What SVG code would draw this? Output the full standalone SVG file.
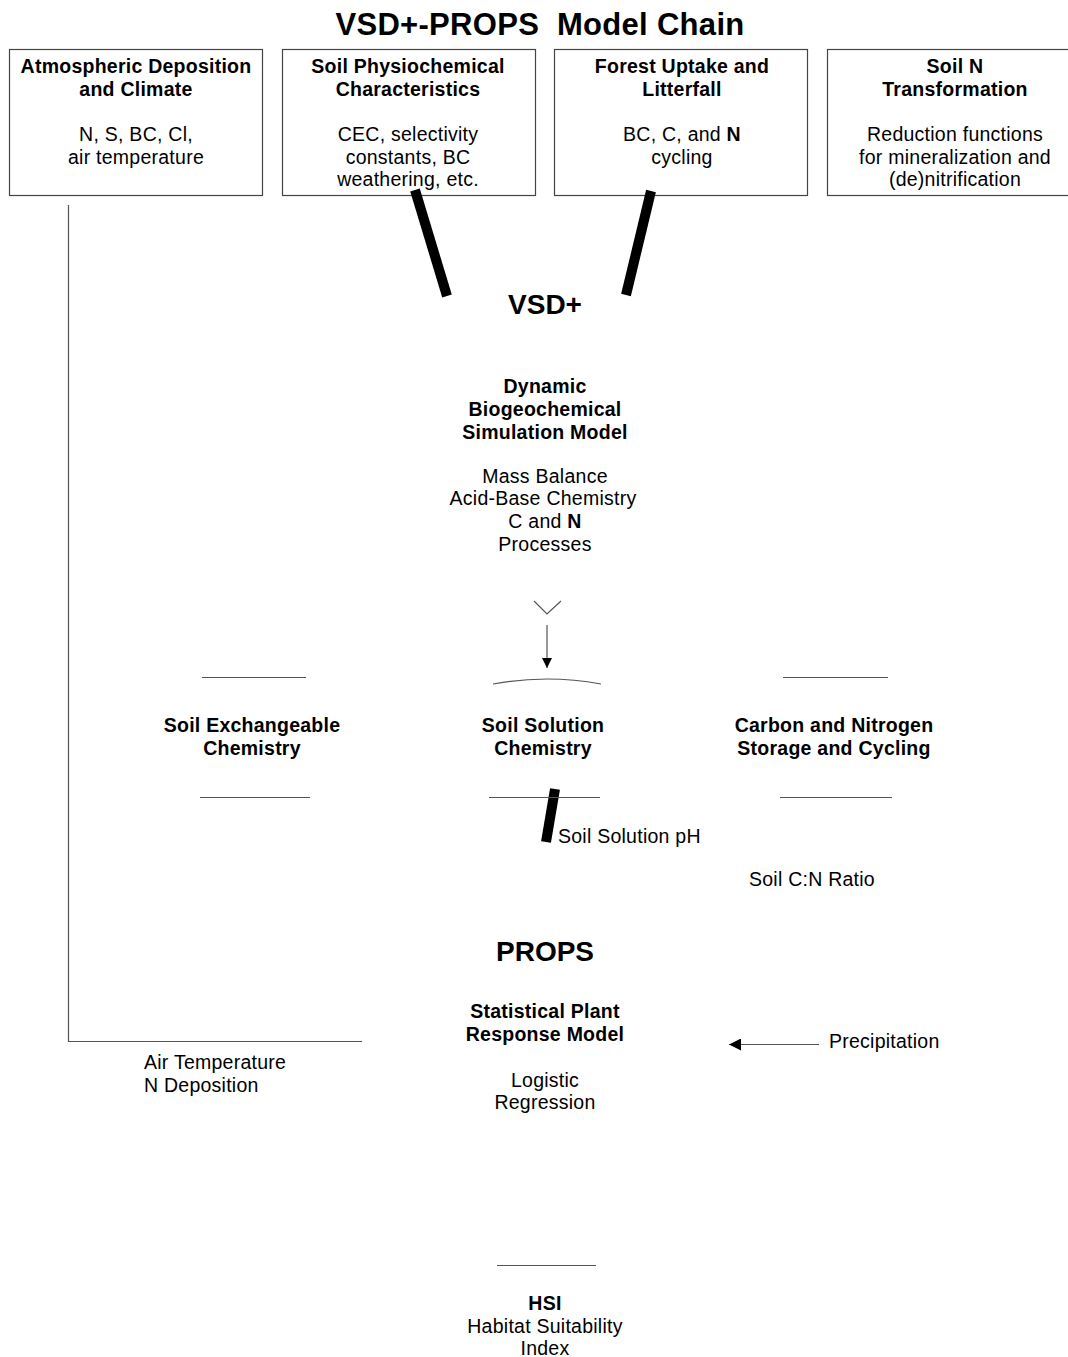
<svg xmlns="http://www.w3.org/2000/svg" width="1068" height="1357" viewBox="0 0 1068 1357">
<style>
text{font-family:"Liberation Sans",Arial,sans-serif;font-size:19.5px;letter-spacing:0.25px;fill:#000;text-anchor:middle}
.b{font-weight:bold}
.h{font-weight:bold;font-size:28px;letter-spacing:0}
.t{font-weight:bold;font-size:31px;letter-spacing:0.3px}
.l{text-anchor:start}
.box{fill:none;stroke:#444;stroke-width:1.2}
.ln{stroke:#555;stroke-width:1.2;fill:none}
.bar{stroke:#000;stroke-width:10;stroke-linecap:butt}
</style>
<defs>
<marker id="ah" viewBox="0 0 10 10" refX="10" refY="5" markerWidth="10" markerHeight="10" markerUnits="userSpaceOnUse" orient="auto"><path d="M0,0 L10,5 L0,10 z" fill="#000"/></marker>
<marker id="ah2" viewBox="0 0 10 10" refX="10" refY="5" markerWidth="12" markerHeight="12" markerUnits="userSpaceOnUse" orient="auto"><path d="M0,0 L10,5 L0,10 z" fill="#000"/></marker>
</defs>
<text class="t" x="540" y="35" xml:space="preserve">VSD+-PROPS  Model Chain</text>
<g id="atm">
<rect class="box" x="9.5" y="49.5" width="253" height="146"/>
<text class="b" x="136" y="73">Atmospheric Deposition</text>
<text class="b" x="136" y="96">and Climate</text>
<text x="136" y="141">N, S, BC, Cl,</text>
<text x="136" y="164">air temperature</text>
</g>
<g id="soilphys">
<rect class="box" x="282.5" y="49.5" width="253" height="146"/>
<text class="b" x="408" y="73">Soil Physiochemical</text>
<text class="b" x="408" y="96">Characteristics</text>
<text x="408" y="141">CEC, selectivity</text>
<text x="408" y="164">constants, BC</text>
<text x="408" y="186">weathering, etc.</text>
</g>
<g id="forest">
<rect class="box" x="554.5" y="49.5" width="253" height="146"/>
<text class="b" x="682" y="73">Forest Uptake and</text>
<text class="b" x="682" y="96">Litterfall</text>
<text x="682" y="141">BC, C, and <tspan font-weight="bold">N</tspan></text>
<text x="682" y="164">cycling</text>
</g>
<g id="soiln">
<rect class="box" x="827.5" y="49.5" width="250" height="146"/>
<text class="b" x="955" y="73">Soil N</text>
<text class="b" x="955" y="96">Transformation</text>
<text x="955" y="141">Reduction functions</text>
<text x="955" y="164">for mineralization and</text>
<text x="955" y="186">(de)nitrification</text>
</g>
<g id="vsd">
<text class="h" x="545" y="314">VSD+</text>
<text class="b" x="545" y="393">Dynamic</text>
<text class="b" x="545" y="416">Biogeochemical</text>
<text class="b" x="545" y="439">Simulation Model</text>
<text x="545" y="483">Mass Balance</text>
<text x="543" y="505">Acid-Base Chemistry</text>
<text x="545" y="528">C and <tspan font-weight="bold">N</tspan></text>
<text x="545" y="551">Processes</text>
</g>
<g id="exch">
<text class="b" x="252" y="732">Soil Exchangeable</text>
<text class="b" x="252" y="755">Chemistry</text>
</g>
<g id="solution">
<text class="b" x="543" y="732">Soil Solution</text>
<text class="b" x="543" y="755">Chemistry</text>
</g>
<g id="carbon">
<text class="b" x="834" y="732">Carbon and Nitrogen</text>
<text class="b" x="834" y="755">Storage and Cycling</text>
</g>
<g id="props">
<text class="h" x="545" y="961">PROPS</text>
<text class="b" x="545" y="1018">Statistical Plant</text>
<text class="b" x="545" y="1041">Response Model</text>
<text x="545" y="1087">Logistic</text>
<text x="545" y="1109">Regression</text>
</g>
<g id="hsi">
<text class="b" x="545" y="1310">HSI</text>
<text x="545" y="1333">Habitat Suitability</text>
<text x="545" y="1355">Index</text>
</g>
<g id="connectors">
<line class="bar" x1="415" y1="190" x2="447" y2="296"/>
<line class="bar" x1="651" y1="191" x2="626" y2="295"/>
<line class="bar" x1="555" y1="789" x2="546" y2="842"/>
<polyline class="ln" points="534,601 547,614 561,601"/>
<line class="ln" x1="547" y1="625" x2="547" y2="668" marker-end="url(#ah)"/>
<path class="ln" d="M493,684 Q547,674 601,684"/>
<line class="ln" x1="202" y1="677.5" x2="306" y2="677.5"/>
<line class="ln" x1="783" y1="677.5" x2="888" y2="677.5"/>
<line class="ln" x1="200" y1="797.5" x2="310" y2="797.5"/>
<line class="ln" x1="489" y1="797.5" x2="600" y2="797.5"/>
<line class="ln" x1="780" y1="797.5" x2="892" y2="797.5"/>
<polyline class="ln" points="68.5,205 68.5,1041.5 362,1041.5"/>
<line class="ln" x1="819" y1="1044.5" x2="729" y2="1044.5" marker-end="url(#ah2)"/>
<line class="ln" x1="497" y1="1265.5" x2="596" y2="1265.5"/>
<text class="l" x="558" y="843">Soil Solution pH</text>
<text class="l" x="749" y="886">Soil C:N Ratio</text>
<text class="l" x="144" y="1069">Air Temperature</text>
<text class="l" x="144" y="1092">N Deposition</text>
<text class="l" x="829" y="1048">Precipitation</text>
</g>
</svg>
